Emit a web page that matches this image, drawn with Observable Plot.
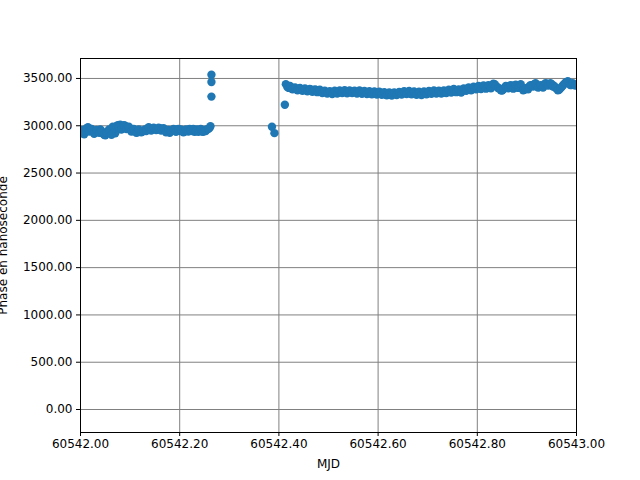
<!DOCTYPE html>
<html>
<head>
<meta charset="utf-8">
<script src="https://cdn.jsdelivr.net/npm/d3@7"></script>
<script src="https://cdn.jsdelivr.net/npm/@observablehq/plot@0.6"></script>
<style>
  html, body { margin: 0; padding: 0; background: #fff; }
  #chart { width: 640px; height: 480px; }
</style>
</head>
<body>
<div id="chart"></div>
<script>
// primary samples
const mjd = [
  60542.000, 60542.005, 60542.010, 60542.015, 60542.020, 60542.025, 60542.030, 60542.035, 60542.040, 60542.045,
  60542.050, 60542.055, 60542.060, 60542.065, 60542.070, 60542.075, 60542.080, 60542.085, 60542.090, 60542.095,
  60542.100, 60542.105, 60542.110, 60542.115, 60542.120, 60542.125, 60542.130, 60542.135, 60542.140, 60542.145,
  60542.150, 60542.155, 60542.160, 60542.165, 60542.170, 60542.175, 60542.180, 60542.185, 60542.190, 60542.195,
  60542.200, 60542.205, 60542.210, 60542.215, 60542.220, 60542.225, 60542.230, 60542.235, 60542.240, 60542.245,
  60542.250, 60542.255, 60542.260, 60542.262,
  60542.264, 60542.264, 60542.264,
  60542.386, 60542.391, 60542.412,
  60542.414, 60542.417, 60542.420, 60542.425, 60542.430, 60542.435, 60542.440, 60542.445, 60542.450, 60542.455,
  60542.460, 60542.465, 60542.470, 60542.475, 60542.480, 60542.485, 60542.490, 60542.495, 60542.500, 60542.505,
  60542.510, 60542.515, 60542.520, 60542.525, 60542.530, 60542.535, 60542.540, 60542.545, 60542.550, 60542.555,
  60542.560, 60542.565, 60542.570, 60542.575, 60542.580, 60542.585, 60542.590, 60542.595, 60542.600, 60542.605,
  60542.610, 60542.615, 60542.620, 60542.625, 60542.630, 60542.635, 60542.640, 60542.645, 60542.650, 60542.655,
  60542.660, 60542.665, 60542.670, 60542.675, 60542.680, 60542.685, 60542.690, 60542.695, 60542.700, 60542.705,
  60542.710, 60542.715, 60542.720, 60542.725, 60542.730, 60542.735, 60542.740, 60542.745, 60542.750, 60542.755,
  60542.760, 60542.765, 60542.770, 60542.775, 60542.780, 60542.785, 60542.790, 60542.795, 60542.800, 60542.805,
  60542.810, 60542.815, 60542.820, 60542.825, 60542.830, 60542.835, 60542.840, 60542.845, 60542.850, 60542.855,
  60542.860, 60542.865, 60542.870, 60542.875, 60542.880, 60542.885, 60542.890, 60542.895, 60542.900, 60542.905,
  60542.910, 60542.915, 60542.920, 60542.925, 60542.930, 60542.935, 60542.940, 60542.945, 60542.950, 60542.955,
  60542.960, 60542.965, 60542.970, 60542.975, 60542.980, 60542.985, 60542.990, 60542.995, 60543.000
];
const phase = [
  2935, 2920, 2960, 2985, 2950, 2940, 2930, 2945, 2960, 2920,
  2900, 2935, 2950, 2990, 2920, 3005, 3010, 2990, 3000, 2980,
  2970, 2945, 2950, 2930, 2945, 2940, 2960, 2970, 2960, 2975,
  2970, 2960, 2975, 2965, 2950, 2940, 2925, 2950, 2955, 2960,
  2945, 2950, 2940, 2955, 2965, 2945, 2935, 2960, 2950, 2940,
  2955, 2960, 2975, 2995,
  3540, 3462, 3308,
  2990, 2922, 3222,
  3440, 3410, 3400, 3395, 3392, 3390, 3388, 3385, 3382, 3378,
  3375, 3380, 3372, 3378, 3368, 3362, 3360, 3355, 3352, 3350,
  3355, 3352, 3356, 3358, 3362, 3360, 3358, 3362, 3360, 3358,
  3356, 3360, 3355, 3352, 3356, 3350, 3348, 3352, 3345, 3350,
  3342, 3340, 3338, 3342, 3336, 3340, 3345, 3342, 3348, 3350,
  3352, 3356, 3350, 3345, 3348, 3340, 3345, 3350, 3348, 3355,
  3352, 3360, 3350, 3355, 3358, 3352, 3360, 3365, 3372, 3368,
  3375, 3362, 3370, 3385, 3392, 3380, 3395, 3400, 3405, 3398,
  3410, 3402, 3415, 3408, 3425, 3440, 3410, 3395, 3372, 3400,
  3410, 3420, 3405, 3425, 3410, 3430, 3395, 3380, 3400, 3415,
  3430, 3440, 3425, 3410, 3420, 3435, 3445, 3430, 3440, 3420,
  3390, 3380, 3410, 3440, 3460, 3450, 3430, 3440, 3435
];
// interleaved samples
const mjd2 = [
  60542.0025, 60542.0075, 60542.0125, 60542.0175, 60542.0225, 60542.0275, 60542.0325, 60542.0375, 60542.0425, 60542.0475,
  60542.0525, 60542.0575, 60542.0625, 60542.0675, 60542.0725, 60542.0775, 60542.0825, 60542.0875, 60542.0925, 60542.0975,
  60542.1025, 60542.1075, 60542.1125, 60542.1175, 60542.1225, 60542.1275, 60542.1325, 60542.1375, 60542.1425, 60542.1475,
  60542.1525, 60542.1575, 60542.1625, 60542.1675, 60542.1725, 60542.1775, 60542.1825, 60542.1875, 60542.1925, 60542.1975,
  60542.2025, 60542.2075, 60542.2125, 60542.2175, 60542.2225, 60542.2275, 60542.2325, 60542.2375, 60542.2425, 60542.2475,
  60542.2525, 60542.2575,
  60542.4225, 60542.4275, 60542.4325, 60542.4375, 60542.4425, 60542.4475, 60542.4525, 60542.4575, 60542.4625, 60542.4675,
  60542.4725, 60542.4775, 60542.4825, 60542.4875, 60542.4925, 60542.4975, 60542.5025, 60542.5075, 60542.5125, 60542.5175,
  60542.5225, 60542.5275, 60542.5325, 60542.5375, 60542.5425, 60542.5475, 60542.5525, 60542.5575, 60542.5625, 60542.5675,
  60542.5725, 60542.5775, 60542.5825, 60542.5875, 60542.5925, 60542.5975, 60542.6025, 60542.6075, 60542.6125, 60542.6175,
  60542.6225, 60542.6275, 60542.6325, 60542.6375, 60542.6425, 60542.6475, 60542.6525, 60542.6575, 60542.6625, 60542.6675,
  60542.6725, 60542.6775, 60542.6825, 60542.6875, 60542.6925, 60542.6975, 60542.7025, 60542.7075, 60542.7125, 60542.7175,
  60542.7225, 60542.7275, 60542.7325, 60542.7375, 60542.7425, 60542.7475, 60542.7525, 60542.7575, 60542.7625, 60542.7675,
  60542.7725, 60542.7775, 60542.7825, 60542.7875, 60542.7925, 60542.7975, 60542.8025, 60542.8075, 60542.8125, 60542.8175,
  60542.8225, 60542.8275, 60542.8325, 60542.8375, 60542.8425, 60542.8475, 60542.8525, 60542.8575, 60542.8625, 60542.8675,
  60542.8725, 60542.8775, 60542.8825, 60542.8875, 60542.8925, 60542.8975, 60542.9025, 60542.9075, 60542.9125, 60542.9175,
  60542.9225, 60542.9275, 60542.9325, 60542.9375, 60542.9425, 60542.9475, 60542.9525, 60542.9575, 60542.9625, 60542.9675,
  60542.9725, 60542.9775, 60542.9825, 60542.9875, 60542.9925, 60542.9975
];
const phase2 = [
  2955, 2910, 2975, 2940, 2965, 2915, 2955, 2925, 2945, 2905,
  2925, 2960, 2905, 2975, 2995, 2985, 2960, 3005, 2965, 2990,
  2940, 2965, 2925, 2960, 2930, 2950, 2945, 2985, 2950, 2980,
  2955, 2980, 2950, 2975, 2930, 2955, 2945, 2965, 2935, 2965,
  2960, 2930, 2960, 2940, 2950, 2965, 2945, 2935, 2965, 2935,
  2945, 2965,
  3420, 3385, 3405, 3375, 3400, 3370, 3395, 3365, 3390, 3360,
  3385, 3355, 3380, 3345, 3370, 3340, 3365, 3335, 3370, 3340,
  3372, 3345, 3375, 3342, 3372, 3345, 3370, 3340, 3372, 3338,
  3368, 3336, 3365, 3332, 3362, 3330, 3360, 3328, 3355, 3322,
  3352, 3320, 3352, 3325, 3358, 3330, 3365, 3335, 3368, 3332,
  3362, 3328, 3360, 3325, 3362, 3332, 3368, 3338, 3372, 3340,
  3370, 3340, 3372, 3345, 3380, 3352, 3388, 3355, 3385, 3352,
  3395, 3370, 3405, 3375, 3412, 3385, 3420, 3388, 3425, 3392,
  3430, 3395, 3445, 3420, 3395, 3375, 3385, 3420, 3395, 3430,
  3392, 3435, 3400, 3440, 3375, 3395, 3385, 3430, 3415, 3450,
  3405, 3430, 3405, 3450, 3425, 3450, 3415, 3405, 3375, 3395,
  3425, 3455, 3470, 3430, 3450, 3425
];
const xTicks = [60542.0, 60542.2, 60542.4, 60542.6, 60542.8, 60543.0];
const yTicks = [0, 500, 1000, 1500, 2000, 2500, 3000, 3500];
const xLabel = "MJD";
const yLabel = "Phase en nanoseconde";

const data = mjd.map((m, i) => ({mjd: m, phase: phase[i]}))
  .concat(mjd2.map((m, i) => ({mjd: m, phase: phase2[i]})));

const fmt = d3.format(".2f");
const chart = Plot.plot({
  width: 640,
  height: 480,
  marginLeft: 80,
  marginRight: 64,
  marginTop: 58,
  marginBottom: 48,
  style: {fontFamily: "DejaVu Sans", fontSize: "12px", color: "#000", background: "#fff"},
  x: {domain: [60542, 60543]},
  y: {domain: [-243, 3711]},
  marks: [
    Plot.gridX(xTicks, {stroke: "#808080", strokeOpacity: 1, strokeWidth: 1}),
    Plot.gridY(yTicks, {stroke: "#808080", strokeOpacity: 1, strokeWidth: 1}),
    Plot.dot(data, {x: "mjd", y: "phase", r: 4.2, fill: "#1f77b4", stroke: "none", clip: true}),
    Plot.frame({stroke: "#000", strokeWidth: 1}),
    Plot.axisX({ticks: xTicks, tickFormat: fmt, tickSize: 4, tickPadding: 3,
      label: xLabel, labelAnchor: "center", labelArrow: "none", labelOffset: 35}),
    Plot.axisY({ticks: yTicks, tickFormat: fmt, tickSize: 4, tickPadding: 4,
      label: yLabel, labelAnchor: "center", labelArrow: "none", labelOffset: 82})
  ]
});
document.getElementById("chart").appendChild(chart);
</script>
</body>
</html>
